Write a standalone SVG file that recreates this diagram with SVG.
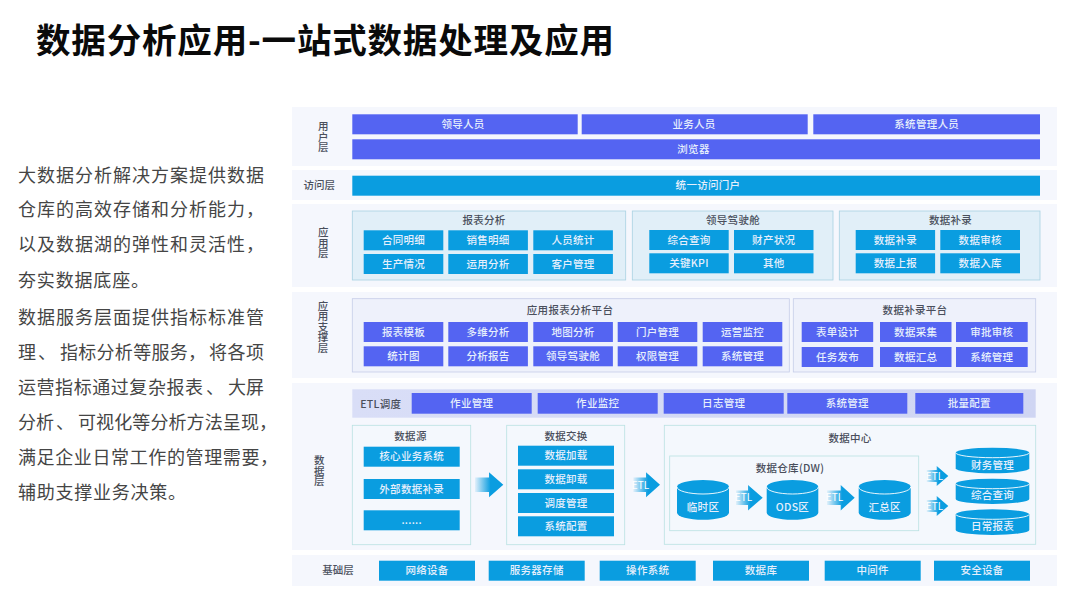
<svg xmlns="http://www.w3.org/2000/svg" width="1080" height="608" viewBox="0 0 1080 608">
<style>
text{font-family:"Noto Sans CJK SC","Noto Sans",sans-serif;text-anchor:middle;dominant-baseline:central;transform:translateY(-.8px)}
.title{font-size:34.5px;font-weight:700;fill:#0a0a0a;text-anchor:start}
.para{font-size:18px;fill:#454545;text-anchor:start}
.layer{fill:#f5f7fd}
.i{fill:#5464f2}
.c{fill:#0a9de0}
.l{font-size:10.5px;font-weight:500;fill:#e6effc;letter-spacing:.3px}
.h{font-size:10.5px;font-weight:500;fill:#4a4f5c;letter-spacing:.3px}
.lab{font-size:10.5px;font-weight:500;fill:#4a4f5c}
.v{writing-mode:vertical-rl;transform:none}
.pb{fill:#e1eff8;stroke:#a9d2e2;stroke-width:.8}
.ps{fill:#eef1fb;stroke:#c5cde8;stroke-width:.8}
.pd{fill:#f4f8fd;stroke:#b9e2e2;stroke-width:.8}
.cut{fill:none;stroke:#fff;stroke-width:.9}
.e{font-size:10px;fill:#fff}
</style>
<defs>
<linearGradient id="fade" x1="0" x2="1" y1="0" y2="0"><stop offset="0" stop-color="#0a9de0" stop-opacity=".08"/><stop offset=".55" stop-color="#0a9de0"/></linearGradient>
<linearGradient id="bar" x1="0" x2="1" y1="0" y2="0"><stop offset="0" stop-color="#d9def7"/><stop offset="1" stop-color="#cfd5f3"/></linearGradient>
</defs>
<rect width="1080" height="608" fill="#fff"/>
<text class="title" x="36" y="38.5" textLength="578">数据分析应用-一站式数据处理及应用</text>
<g id="intro">
<text class="para" x="18" y="175" textLength="246">大数据分析解决方案提供数据</text>
<text class="para" x="18" y="209" textLength="246">仓库的高效存储和分析能力，</text>
<text class="para" x="18" y="244" textLength="246">以及数据湖的弹性和灵活性，</text>
<text class="para" x="18" y="280" textLength="131">夯实数据底座。</text>
<text class="para" x="18" y="317" textLength="246">数据服务层面提供指标标准管</text>
<text class="para" x="18" y="352"><tspan x="18">理</tspan><tspan x="38">、</tspan><tspan x="60" textLength="146">指标分析等服务，</tspan><tspan x="209" textLength="55">将各项</tspan></text>
<text class="para" x="18" y="387"><tspan x="18" textLength="185">运营指标通过复杂报表</tspan><tspan x="206">、</tspan><tspan x="228" textLength="36">大屏</tspan></text>
<text class="para" x="18" y="422"><tspan x="18" textLength="36">分析</tspan><tspan x="56">、</tspan><tspan x="78" textLength="199">可视化等分析方法呈现，</tspan></text>
<text class="para" x="18" y="457" textLength="260">满足企业日常工作的管理需要，</text>
<text class="para" x="18" y="492" textLength="168">辅助支撑业务决策。</text>
</g>
<g id="layers">
<rect class="layer" x="292" y="107" width="765" height="59"/>
<rect class="layer" x="292" y="170" width="765" height="30"/>
<rect class="layer" x="292" y="204" width="765" height="83"/>
<rect class="layer" x="292" y="292" width="765" height="86"/>
<rect class="layer" x="292" y="383" width="765" height="167"/>
<rect class="layer" x="292" y="555" width="765" height="31"/>
</g>
<g id="layer-labels">
<text class="lab v" x="323.3" y="137">用户层</text>
<text class="lab" x="319.3" y="185.5">访问层</text>
<text class="lab v" x="323.3" y="243">应用层</text>
<text class="lab v" x="323" y="327">应用支撑层</text>
<text class="lab v" x="319.3" y="471">数据层</text>
<text class="lab" x="338" y="570.7">基础层</text>
</g>
<g id="user-layer">
<g id="n-leader"><rect class="i" x="352.3" y="114.3" width="225.4" height="20"/><text class="l" x="463" y="124.3">领导人员</text></g>
<g id="n-business"><rect class="i" x="581.7" y="114.3" width="226" height="20"/><text class="l" x="694" y="124.3">业务人员</text></g>
<g id="n-sysadmin"><rect class="i" x="813.3" y="114.3" width="226.7" height="20"/><text class="l" x="926.7" y="124.3">系统管理人员</text></g>
<g id="n-browser"><rect class="i" x="352.3" y="139.3" width="687.7" height="20"/><text class="l" x="693.5" y="149.3">浏览器</text></g>
</g>
<g id="n-portal"><rect class="c" x="352.3" y="175.7" width="687.7" height="20"/><text class="l" x="708" y="185.7">统一访问门户</text></g>
<g id="app-report">
<rect class="pb" x="352.3" y="211" width="273.4" height="69"/><text class="h" x="484" y="220.7">报表分析</text>
<rect class="c" x="363.7" y="230.3" width="79.6" height="20"/><text class="l" x="403.5" y="240.3">合同明细</text>
<rect class="c" x="448.3" y="230.3" width="79.6" height="20"/><text class="l" x="488" y="240.3">销售明细</text>
<rect class="c" x="533.3" y="230.3" width="79.6" height="20"/><text class="l" x="573" y="240.3">人员统计</text>
<rect class="c" x="363.7" y="254" width="79.6" height="20"/><text class="l" x="403.5" y="264">生产情况</text>
<rect class="c" x="448.3" y="254" width="79.6" height="20"/><text class="l" x="488" y="264">运用分析</text>
<rect class="c" x="533.3" y="254" width="79.6" height="20"/><text class="l" x="573" y="264">客户管理</text>
</g>
<g id="app-cockpit">
<rect class="pb" x="632.3" y="211" width="200.7" height="69"/><text class="h" x="733" y="220.7">领导驾驶舱</text>
<rect class="c" x="649.3" y="230" width="79.4" height="20"/><text class="l" x="689" y="240">综合查询</text>
<rect class="c" x="734" y="230" width="79.5" height="20"/><text class="l" x="773.7" y="240">财产状况</text>
<rect class="c" x="649.3" y="253.3" width="79.4" height="20"/><text class="l" x="689" y="263.3">关键KPI</text>
<rect class="c" x="734" y="253.3" width="79.5" height="20"/><text class="l" x="773.7" y="263.3">其他</text>
</g>
<g id="app-entry">
<rect class="pb" x="839.3" y="211" width="200.7" height="69"/><text class="h" x="950.5" y="220.7">数据补录</text>
<rect class="c" x="855.7" y="230" width="79.4" height="20"/><text class="l" x="895.4" y="240">数据补录</text>
<rect class="c" x="940.3" y="230" width="79.7" height="20"/><text class="l" x="980.2" y="240">数据审核</text>
<rect class="c" x="855.7" y="253.3" width="79.4" height="20"/><text class="l" x="895.4" y="263.3">数据上报</text>
<rect class="c" x="940.3" y="253.3" width="79.7" height="20"/><text class="l" x="980.2" y="263.3">数据入库</text>
</g>
<g id="support-report">
<rect class="ps" x="352.3" y="298.7" width="437" height="73.3"/><text class="h" x="570" y="310">应用报表分析平台</text>
<rect class="i" x="363.7" y="322" width="79.6" height="20"/><text class="l" x="403.5" y="332">报表模板</text>
<rect class="i" x="448.3" y="322" width="79.6" height="20"/><text class="l" x="488" y="332">多维分析</text>
<rect class="i" x="533.3" y="322" width="79.6" height="20"/><text class="l" x="573" y="332">地图分析</text>
<rect class="i" x="617.7" y="322" width="79.6" height="20"/><text class="l" x="657.5" y="332">门户管理</text>
<rect class="i" x="702.7" y="322" width="79.6" height="20"/><text class="l" x="742.5" y="332">运营监控</text>
<rect class="i" x="363.7" y="346.3" width="79.6" height="20"/><text class="l" x="403.5" y="356.3">统计图</text>
<rect class="i" x="448.3" y="346.3" width="79.6" height="20"/><text class="l" x="488" y="356.3">分析报告</text>
<rect class="i" x="533.3" y="346.3" width="79.6" height="20"/><text class="l" x="573" y="356.3">领导驾驶舱</text>
<rect class="i" x="617.7" y="346.3" width="79.6" height="20"/><text class="l" x="657.5" y="356.3">权限管理</text>
<rect class="i" x="702.7" y="346.3" width="79.6" height="20"/><text class="l" x="742.5" y="356.3">系统管理</text>
</g>
<g id="support-entry">
<rect class="ps" x="793.3" y="298.7" width="242.4" height="73.3"/><text class="h" x="915" y="310">数据补录平台</text>
<rect class="i" x="801.7" y="322" width="71.5" height="20"/><text class="l" x="837.5" y="332">表单设计</text>
<rect class="i" x="880" y="322" width="71.5" height="20"/><text class="l" x="915.7" y="332">数据采集</text>
<rect class="i" x="956" y="322" width="71.7" height="20"/><text class="l" x="991.8" y="332">审批审核</text>
<rect class="i" x="801.7" y="347" width="71.5" height="20"/><text class="l" x="837.5" y="357">任务发布</text>
<rect class="i" x="880" y="347" width="71.5" height="20"/><text class="l" x="915.7" y="357">数据汇总</text>
<rect class="i" x="956" y="347" width="71.7" height="20"/><text class="l" x="991.8" y="357">系统管理</text>
</g>
<g id="etl-schedule">
<rect x="352.3" y="389.3" width="683.4" height="28.4" fill="url(#bar)"/><text class="h" x="380.7" y="404">ETL调度</text>
<rect class="i" x="411.7" y="393" width="120" height="20.7"/><text class="l" x="471.7" y="403.5">作业管理</text>
<rect class="i" x="537.7" y="393" width="120" height="20.7"/><text class="l" x="597.7" y="403.5">作业监控</text>
<rect class="i" x="663.7" y="393" width="120" height="20.7"/><text class="l" x="723.7" y="403.5">日志管理</text>
<rect class="i" x="787.3" y="393" width="120" height="20.7"/><text class="l" x="847.3" y="403.5">系统管理</text>
<rect class="i" x="915.3" y="393" width="108" height="20.7"/><text class="l" x="969.3" y="403.5">批量配置</text>
</g>
<g id="data-source">
<rect class="pd" x="352.3" y="425.3" width="118.4" height="119.4"/><text class="h" x="410.5" y="436.7">数据源</text>
<rect class="c" x="363.7" y="446.7" width="96" height="20"/><text class="l" x="411.7" y="456.7">核心业务系统</text>
<rect class="c" x="363.7" y="479" width="96" height="20"/><text class="l" x="411.7" y="489">外部数据补录</text>
<rect class="c" x="363.7" y="510.3" width="96" height="20"/><text class="l" x="411.7" y="520.3">......</text>
</g>
<g id="data-exchange">
<rect class="pd" x="506.7" y="425.3" width="118" height="119.4"/><text class="h" x="566" y="436">数据交换</text>
<rect class="c" x="518" y="445.7" width="96" height="20"/><text class="l" x="566" y="455.7">数据加载</text>
<rect class="c" x="518" y="469.3" width="96" height="20"/><text class="l" x="566" y="479.3">数据卸载</text>
<rect class="c" x="518" y="493" width="96" height="20"/><text class="l" x="566" y="503">调度管理</text>
<rect class="c" x="518" y="516.3" width="96" height="20"/><text class="l" x="566" y="526.3">系统配置</text>
</g>
<g id="data-center">
<rect class="pd" x="664.3" y="425.3" width="371.4" height="119"/><text class="h" x="850" y="438.7">数据中心</text>
<rect class="pd" x="669.7" y="456" width="249" height="74.7"/><text class="h" x="790" y="468">数据仓库(DW)</text>
</g>
<g id="db-temp"><path class="c" d="M677 487A26 7 0 0 1 729 487V512.7A26 7 0 0 1 677 512.7Z"/><path class="cut" d="M677 487A26 7 0 0 0 729 487"/><text class="l" x="703" y="507">临时区</text></g>
<g id="db-ods"><path class="c" d="M766.7 487A25.8 7 0 0 1 818.3 487V512.7A25.8 7 0 0 1 766.7 512.7Z"/><path class="cut" d="M766.7 487A25.8 7 0 0 0 818.3 487"/><text class="l" x="792.5" y="507">ODS区</text></g>
<g id="db-summary"><path class="c" d="M858.7 487A26 7 0 0 1 910.7 487V512.7A26 7 0 0 1 858.7 512.7Z"/><path class="cut" d="M858.7 487A26 7 0 0 0 910.7 487"/><text class="l" x="884.7" y="507">汇总区</text></g>
<g id="db-finance"><path class="c" d="M955.7 452.7A36.8 5 0 0 1 1029.3 452.7V468.3A36.8 5 0 0 1 955.7 468.3Z"/><path class="cut" d="M955.7 452.7A36.8 5 0 0 0 1029.3 452.7"/><text class="l" x="992.5" y="465">财务管理</text></g>
<g id="db-query"><path class="c" d="M955.7 483.7A36.8 5 0 0 1 1029.3 483.7V499A36.8 5 0 0 1 955.7 499Z"/><path class="cut" d="M955.7 483.7A36.8 5 0 0 0 1029.3 483.7"/><text class="l" x="992.5" y="495.5">综合查询</text></g>
<g id="db-daily"><path class="c" d="M955.7 514.3A36.8 5 0 0 1 1029.3 514.3V530A36.8 5 0 0 1 955.7 530Z"/><path class="cut" d="M955.7 514.3A36.8 5 0 0 0 1029.3 514.3"/><text class="l" x="992.5" y="526">日常报表</text></g>
<g id="base-layer">
<g id="n-network"><rect class="c" x="379" y="560.7" width="96" height="20"/><text class="l" x="427" y="570.7">网络设备</text></g>
<g id="n-storage"><rect class="c" x="488.7" y="560.7" width="96" height="20"/><text class="l" x="536.7" y="570.7">服务器存储</text></g>
<g id="n-os"><rect class="c" x="599.7" y="560.7" width="96" height="20"/><text class="l" x="647.7" y="570.7">操作系统</text></g>
<g id="n-db"><rect class="c" x="713" y="560.7" width="96" height="20"/><text class="l" x="761" y="570.7">数据库</text></g>
<g id="n-middleware"><rect class="c" x="824.7" y="560.7" width="96" height="20"/><text class="l" x="872.7" y="570.7">中间件</text></g>
<g id="n-security"><rect class="c" x="934" y="560.7" width="96" height="20"/><text class="l" x="982" y="570.7">安全设备</text></g>
</g>
<g id="connectors" fill="url(#fade)">
<path d="M475 477.4H489V472.2L503.3 484.7L489 497.2V492H475Z"/>
<path d="M633.3 477.4H646V472.2L660 484.7L646 497.2V492H633.3Z"/>
<path d="M736 490.4H748V485L762.7 497.7L748 510.4V505H736Z"/>
<path d="M827 490.4H840.7V485L854.7 497.7L840.7 510.4V505H827Z"/>
<path d="M926.7 470H936.7V466L948.3 476L936.7 486V482H926.7Z"/>
<path d="M926.7 500H936.7V496L948.3 506L936.7 516V512H926.7Z"/>
</g>
<g id="connector-labels">
<text class="e" x="640.5" y="485">ETL</text>
<text class="e" x="743.5" y="497.7">ETL</text>
<text class="e" x="834.5" y="497.7">ETL</text>
<text class="e" x="934.5" y="476">ETL</text>
<text class="e" x="934.5" y="506">ETL</text>
</g>
</svg>
